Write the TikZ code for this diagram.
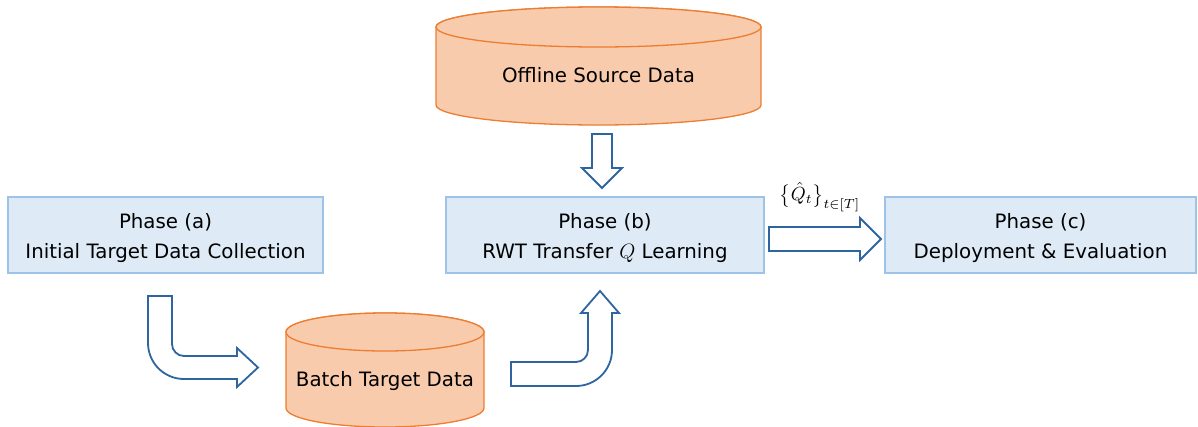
\documentclass[tikz,border=0pt]{standalone}
\usepackage{fontspec}
\setmainfont{DejaVu Sans}
\definecolor{boxfill}{HTML}{DEEBF7}
\definecolor{boxline}{HTML}{9DC3E6}
\definecolor{cylfill}{HTML}{F8CBAD}
\definecolor{cylline}{HTML}{ED7D31}
\definecolor{arrline}{HTML}{2E64A0}
\tikzset{
  phasebox/.style={draw=boxline, fill=boxfill, line width=1.8pt},
  phasetext/.style={align=center, font=\fontsize{19.8}{30}\selectfont, inner sep=0pt},
  cyl/.style={draw=cylline, fill=cylfill, line width=1.3pt},
  blockarrow/.style={draw=arrline, fill=white, line width=1.8pt, line join=miter},
}
\begin{document}
\begin{tikzpicture}[x=1pt,y=-1pt]
\useasboundingbox (0,0) rectangle (1198,426);
\begin{scope}
\clip (0,0) rectangle (1198,426);
% Offline source cylinder
\path[cyl] (436,27) -- (436,105) arc[start angle=180,end angle=0,x radius=162.5,y radius=20]
  -- (761,27) arc[start angle=0,end angle=-180,x radius=162.5,y radius=20] -- cycle;
\draw[cyl] (598.5,27) ellipse[x radius=162.5,y radius=20];
% Batch target cylinder
\path[cyl] (286,332) -- (286,408) arc[start angle=180,end angle=0,x radius=99,y radius=19]
  -- (484,332) arc[start angle=0,end angle=-180,x radius=99,y radius=19] -- cycle;
\draw[cyl] (385,332) ellipse[x radius=99,y radius=19];
\end{scope}
\node[phasetext] (src) at (598.5,75) {Offline Source Data};
\node[phasetext] (batch) at (385,381) {Batch Target Data};

% Phase boxes
\draw[phasebox] (8,197) rectangle (323,273);
\draw[phasebox] (446,197) rectangle (764,273);
\draw[phasebox] (885,197) rectangle (1196,273);
\node[phasetext] (pa) at (165.5,238.5) {Phase (a)\\Initial Target Data Collection};
\node[phasetext] (pb) at (605,238.5) {Phase (b)\\RWT Transfer $Q$ Learning};
\node[phasetext] (pc) at (1040.5,238.5) {Phase (c)\\Deployment \& Evaluation};

% Down arrow from source
\draw[blockarrow] (592,134) -- (612,134) -- (612,168) -- (622,168) -- (602,188) -- (582,168) -- (592,168) -- cycle;

% Right arrow b -> c
\draw[blockarrow] (769,227) -- (860,227) -- (860,218) -- (881,239) -- (860,260) -- (860,251) -- (769,251) -- cycle;
\node[font=\fontsize{10}{12}\selectfont, scale=1.9, inner sep=0pt] (qlab) at (820,197) {$\bigl\{\hat{Q}_t\bigr\}_{t\in[T]}$};

% Bent arrow a -> batch
\draw[blockarrow] (148,296) -- (172,296) -- (172,344) arc[start angle=180,end angle=90,radius=12]
  -- (237,356) -- (237,348) -- (258,367.5) -- (237,387) -- (237,379) -- (184,379)
  arc[start angle=90,end angle=180,radius=36] -- cycle;

% Bent arrow batch -> b
\draw[blockarrow] (511,362) -- (576,362) arc[start angle=90,end angle=0,radius=12]
  -- (588,313) -- (581,313) -- (600,291) -- (619,313) -- (612,313) -- (612,350)
  arc[start angle=0,end angle=90,radius=36] -- (511,386) -- cycle;
\end{tikzpicture}
\end{document}
